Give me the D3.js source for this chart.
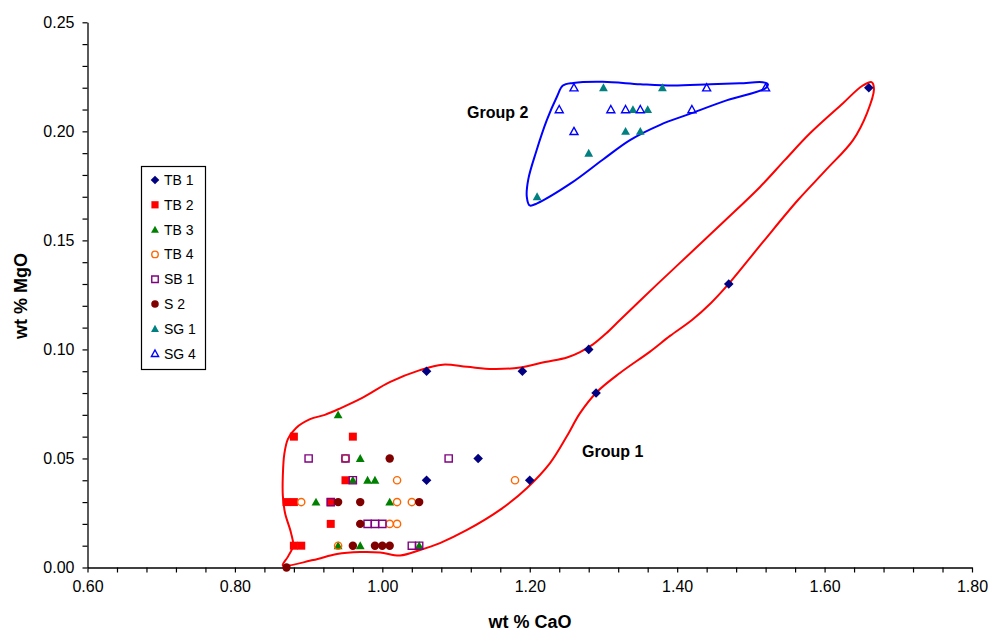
<!DOCTYPE html>
<html><head><meta charset="utf-8">
<script src="https://cdn.jsdelivr.net/npm/d3@7"></script>
<style>body{margin:0;background:#fff;} text{font-family:"Liberation Sans",Arial,sans-serif;}</style>
</head><body>
<script>
// ---- data ----
const seriesNames = ["TB 1","TB 2","TB 3","TB 4","SB 1","S 2","SG 1","SG 4"];
const tb1X = [1.06,1.19,1.28,1.29,1.47,1.66,1.13,1.06,1.20];
const tb1Y = [0.09,0.09,0.10,0.08,0.13,0.22,0.05,0.04,0.04];
const tb2X = [0.88,0.96,0.95,0.87,0.88,0.93,0.93,0.88,0.89];
const tb2Y = [0.06,0.06,0.04,0.03,0.03,0.03,0.02,0.01,0.01];
const tb3X = [0.94,0.97,0.96,0.98,0.99,0.91,1.01,0.94,0.97,1.05];
const tb3Y = [0.07,0.05,0.04,0.04,0.04,0.03,0.03,0.01,0.01,0.01];
const tb4X = [0.95,1.02,1.18,0.89,1.02,1.04,1.01,1.02,0.94];
const tb4Y = [0.05,0.04,0.04,0.03,0.03,0.03,0.02,0.02,0.01];
const sb1X = [0.90,0.95,1.09,0.96,0.93,0.98,0.99,1.00,1.04,1.05];
const sb1Y = [0.05,0.05,0.05,0.04,0.03,0.02,0.02,0.02,0.01,0.01];
const s2X  = [1.01,0.94,0.97,1.05,0.97,0.96,0.99,1.00,1.01,0.87];
const s2Y  = [0.05,0.03,0.03,0.03,0.02,0.01,0.01,0.01,0.01,0.00];
const sg1X = [1.30,1.38,1.34,1.36,1.33,1.35,1.28,1.21];
const sg1Y = [0.22,0.22,0.21,0.21,0.20,0.20,0.19,0.17];
const sg4X = [1.26,1.44,1.52,1.24,1.31,1.33,1.35,1.42,1.26];
const sg4Y = [0.22,0.22,0.22,0.21,0.21,0.21,0.21,0.21,0.20];
const xMajorLabels = ["0.60","0.80","1.00","1.20","1.40","1.60","1.80"];
const yMajorLabels = ["0.00","0.05","0.10","0.15","0.20","0.25"];
// hand-drawn outlines (data space)
const group1OutlineX = [0.865,0.872,0.879,0.876,0.868,0.865,0.865,0.867,0.872,0.883,0.902,0.922,0.943,0.974,1.010,1.051,1.082,1.115,1.150,1.187,1.2207,1.2505,1.2682,1.2858,1.3035,1.3224,1.3699,1.4174,1.4649,1.5124,1.5463,1.5802,1.625,1.6508,1.6637,1.667,1.6576,1.6386,1.6019,1.5639,1.5165,1.471,1.4459,1.4201,1.3903,1.3632,1.3224,1.2912,1.2682,1.2505,1.2275,1.1963,1.1596,1.1149,1.0782,1.0511,1.024,0.997,0.9697,0.9385,0.906];
const group1OutlineY = [0.001,0.005,0.010,0.016,0.025,0.033,0.042,0.052,0.059,0.064,0.068,0.070,0.073,0.078,0.085,0.0905,0.093,0.092,0.091,0.0917,0.0942,0.0963,0.0988,0.1023,0.1073,0.1135,0.1289,0.1440,0.1591,0.1745,0.1869,0.1991,0.2129,0.2208,0.2226,0.2194,0.2084,0.196,0.1823,0.1685,0.1493,0.1305,0.1213,0.1135,0.1062,0.099,0.0892,0.0805,0.0708,0.0603,0.0479,0.0365,0.0264,0.0172,0.0112,0.008,0.0055,0.0069,0.0071,0.0062,0.0034];
const group2OutlineX = [1.245,1.259,1.299,1.350,1.394,1.445,1.485,1.516,1.523,1.520,1.468,1.417,1.377,1.336,1.299,1.255,1.210,1.200,1.196,1.198,1.209,1.223,1.237];
const group2OutlineY = [0.221,0.2222,0.2227,0.2216,0.221,0.2216,0.222,0.2225,0.2216,0.2198,0.2143,0.208,0.203,0.196,0.187,0.176,0.167,0.166,0.170,0.178,0.191,0.205,0.216];
const groupLabels = ["Group 1","Group 2"];

const W = 989, H = 634;
const svg = d3.select("body").append("svg").attr("width",W).attr("height",H);
const x = d3.scaleLinear().domain([0.6,1.8]).range([87.5,972]);
const y = d3.scaleLinear().domain([0,0.25]).range([567.5,22.3]);

// axes
const xTicks = d3.range(0,31).map(i=>+(0.6+i*0.04).toFixed(2));
const yTicks = d3.range(0,26).map(i=>+(i*0.01).toFixed(2));
const xAxis = d3.axisBottom(x).tickValues(xTicks).tickSize(5).tickSizeOuter(0)
  .tickFormat((d,i)=> i%5===0 ? xMajorLabels[i/5] : "");
const yAxis = d3.axisLeft(y).tickValues(yTicks).tickSize(5).tickSizeOuter(0)
  .tickFormat((d,i)=> i%5===0 ? yMajorLabels[i/5] : "");
const gx = svg.append("g").attr("transform",`translate(0,${y(0)})`).call(xAxis);
const gy = svg.append("g").attr("transform",`translate(${x(0.6)},0)`).call(yAxis);
[gx,gy].forEach(g=>{
  g.select(".domain").attr("stroke","#000").attr("stroke-width",1.3);
  g.selectAll(".tick line").attr("stroke","#000").attr("stroke-width",1.2);
  g.selectAll(".tick text").attr("fill","#000").style("font-size","16px").style("font-family","Liberation Sans, Arial, sans-serif");
});
gx.selectAll(".tick text").attr("dy","1.05em");
gy.selectAll(".tick text").attr("dx","-5");

svg.append("text").attr("x",530).attr("y",628).attr("text-anchor","middle")
  .style("font-size","18px").style("font-weight","bold").text("wt % CaO");
svg.append("text").attr("transform","translate(27,296) rotate(-90)").attr("text-anchor","middle")
  .style("font-size","18px").style("font-weight","bold").text("wt % MgO");

// outlines
const line = d3.line().x(d=>x(d[0])).y(d=>y(d[1])).curve(d3.curveCatmullRomClosed.alpha(0.5));
svg.append("path").datum(group1OutlineX.map((v,i)=>[v,group1OutlineY[i]]))
  .attr("d",line).attr("fill","none").attr("stroke","#FF0000").attr("stroke-width",2);
svg.append("path").datum(group2OutlineX.map((v,i)=>[v,group2OutlineY[i]]))
  .attr("d",line).attr("fill","none").attr("stroke","#0000FF").attr("stroke-width",2);

svg.append("text").attr("x",582).attr("y",457).style("font-size","16px").style("font-weight","bold").text(groupLabels[0]);
svg.append("text").attr("x",467).attr("y",118).style("font-size","16px").style("font-weight","bold").text(groupLabels[1]);

// markers
const shapes = {
  diamond: r=>`M0,${-r}L${r},0L0,${r}L${-r},0Z`,
  square: r=>`M${-r},${-r}H${r}V${r}H${-r}Z`,
  triangle: r=>`M0,${-r}L${r},${r*0.8}L${-r},${r*0.8}Z`,
  circle: r=>`M${r},0A${r},${r} 0 1,1 ${-r},0A${r},${r} 0 1,1 ${r},0Z`
};
const styles = [
  {shape:"diamond", r:4.8, fill:"#000080", stroke:"none"},
  {shape:"square", r:4, fill:"#FF0000", stroke:"none"},
  {shape:"triangle", r:4.4, fill:"#008000", stroke:"none"},
  {shape:"circle", r:3.6, fill:"none", stroke:"#FF6600", sw:1.4},
  {shape:"square", r:3.6, fill:"none", stroke:"#800080", sw:1.4},
  {shape:"circle", r:4.2, fill:"#800000", stroke:"none"},
  {shape:"triangle", r:4.4, fill:"#008080", stroke:"none"},
  {shape:"triangle", r:4, fill:"none", stroke:"#0000FF", sw:1.4}
];
const seriesData = [[tb1X,tb1Y],[tb2X,tb2Y],[tb3X,tb3Y],[tb4X,tb4Y],[sb1X,sb1Y],[s2X,s2Y],[sg1X,sg1Y],[sg4X,sg4Y]];
seriesData.forEach((s,k)=>{
  const st = styles[k];
  svg.append("g").selectAll("path").data(s[0].map((v,i)=>[v,s[1][i]])).join("path")
    .attr("transform",d=>`translate(${x(d[0])},${y(d[1])})`)
    .attr("d",shapes[st.shape](st.r)).attr("fill",st.fill).attr("stroke",st.stroke).attr("stroke-width",st.sw||0);
});

// legend
const lg = svg.append("g");
lg.append("rect").attr("x",141.5).attr("y",166.5).attr("width",64).attr("height",203)
  .attr("fill","#fff").attr("stroke","#000").attr("stroke-width",1.2);
seriesNames.forEach((n,k)=>{
  const st = styles[k], yy = 180 + k*24.8;
  lg.append("path").attr("transform",`translate(155,${yy})`).attr("d",shapes[st.shape](st.r*0.9))
    .attr("fill",st.fill).attr("stroke",st.stroke).attr("stroke-width",st.sw||0);
  lg.append("text").attr("x",164).attr("y",yy+5).style("font-size","14px").text(n);
});
</script>
</body></html>
